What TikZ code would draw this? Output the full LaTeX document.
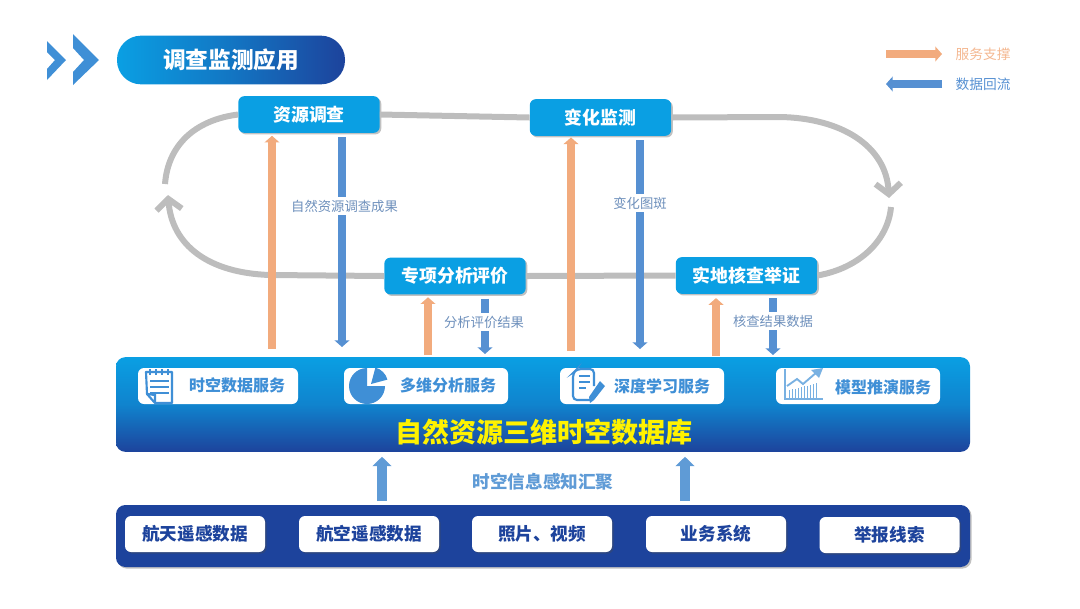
\documentclass[tikz,border=0pt]{standalone}
\usepackage{fontspec}
\setmainfont{Noto Sans CJK SC}
\usetikzlibrary{arrows.meta,shadows}

\definecolor{skyblue}{HTML}{0A9FE3}
\definecolor{deepblue}{HTML}{1D439C}
\definecolor{loopgray}{HTML}{BDBDBD}
\definecolor{suporange}{HTML}{F2AB7D}
\definecolor{backblue}{HTML}{5690D2}
\definecolor{iconblue}{HTML}{3F8FD6}
\definecolor{feedblue}{HTML}{5F9BD6}
\definecolor{labelblue}{HTML}{6E90BC}

\tikzset{
    softshadow/.style={drop shadow={shadow xshift=1.2pt,shadow yshift=-1.2pt,opacity=0.35,fill=black!70}},
    loopbox/.style={draw=none,fill=skyblue,rounded corners=4.5pt,minimum width=106pt,minimum height=27.5pt,
        text=white,font=\fontsize{13.4}{16}\selectfont\bfseries,softshadow},
    sourcebox/.style={fill=white,rounded corners=4.5pt,minimum width=105pt,minimum height=27pt,
        text=deepblue,font=\fontsize{13.2}{16}\selectfont\bfseries,softshadow},
    servicebox/.style={fill=white,rounded corners=4.5pt,minimum height=27pt,inner sep=0pt},
    servicetext/.style={text=iconblue,font=\fontsize{12}{14}\selectfont\bfseries,inner sep=0pt},
    flowlabel/.style={fill=white,text=labelblue,font=\fontsize{10}{12}\selectfont,inner xsep=0pt,inner ysep=2pt},
    looparrow/.style={line width=4.5pt,draw=loopgray},
    looptip/.style={looparrow,-{Straight Barb[length=8pt,width=19pt,line width=4.5pt]}},
    suparrow/.style={line width=6pt,draw=suporange,-{Triangle[length=5pt,width=11pt]}},
    backarrow/.style={line width=6pt,draw=backblue,-{Triangle[length=5pt,width=11pt]}},
    feedarrow/.style={line width=8pt,draw=feedblue,-{Triangle[length=7pt,width=14pt]}},
    iconline/.style={draw=iconblue,line width=1.2pt}
}

\begin{document}
\begin{tikzpicture}[x=0.75pt,y=-0.75pt]
    \useasboundingbox (0,0) rectangle (1080,608);

    % Heading
    \fill[iconblue] (47,41) -- (66,60) -- (47,80) -- (47,69) -- (55,60) -- (47,52) -- cycle;
    \fill[iconblue] (73,34) -- (99,60) -- (73,85) -- (73,72) -- (84,60) -- (73,48) -- cycle;
    \node[left color=skyblue,right color=deepblue,middle color=skyblue!55!deepblue,rounded corners=18pt,
        minimum width=171pt,minimum height=36.5pt,text=white,font=\fontsize{17}{20}\selectfont\bfseries] (heading) at (231,60) {调查监测应用};

    % Legend
    \coordinate (legsupl) at (886,54);
    \coordinate (legsupr) at (942,54);
    \coordinate (legbackl) at (886,84);
    \coordinate (legbackr) at (942,84);
    \draw[suparrow,line width=6.5pt] (legsupl) -- (legsupr);
    \draw[backarrow,line width=6.5pt] (legbackr) -- (legbackl);
    \node[text=suporange!85!white,font=\fontsize{10.3}{12}\selectfont] (legsup) at (983,54) {服务支撑};
    \node[text=backblue,font=\fontsize{10.3}{12}\selectfont] (legback) at (983,84) {数据回流};

    % Loop boxes
    \node[loopbox] (survey) at (309,114.5) {资源调查};
    \node[loopbox] (monitor) at (600.5,117.5) {变化监测};
    \node[loopbox] (assess) at (455,276) {专项分析评价};
    \node[loopbox] (verify) at (746.5,275.5) {实地核查举证};

    % Loop
    \coordinate (lefttop) at (165,184);
    \coordinate (leftend) at (168,195);
    \coordinate (righttip) at (889,198);
    \coordinate (rightbot) at (891,207);
    \draw[looparrow] (survey.east) -- (monitor.west);
    \draw[looparrow] (assess.east) -- (verify.west);
    \draw[looparrow] (survey.west) .. controls (195,120) and (168,145) .. (lefttop);
    \draw[looptip] (assess.west) -- (270,275) .. controls (208,273) and (172,245) .. (leftend);
    \draw[looptip] (monitor.east) -- (780,117) .. controls (840,118) and (886,145) .. (righttip);
    \draw[looparrow] (rightbot) .. controls (888,240) and (860,268) .. (verify.east);

    % Database
    \node[top color=skyblue,bottom color=deepblue,middle color=skyblue!70!deepblue,rounded corners=7pt,
        minimum width=640.5pt,minimum height=71pt] (database) at (543,404.5) {};
    \node[text=yellow,font=\fontsize{20.3}{24}\selectfont\bfseries,inner sep=0pt] (dbtitle) at (544,432) {自然资源三维时空数据库};

    % Services
    \node[servicebox,minimum width=120pt] (serv1) at (218,386) {};
    \node[servicebox,minimum width=123pt] (serv2) at (426,386) {};
    \node[servicebox,minimum width=123pt] (serv3) at (642,386) {};
    \node[servicebox,minimum width=123pt] (serv4) at (858,386) {};
    \node[servicetext] (servtext1) at (237,385.5) {时空数据服务};
    \node[servicetext] (servtext2) at (448,385.5) {多维分析服务};
    \node[servicetext] (servtext3) at (662,386) {深度学习服务};
    \node[servicetext] (servtext4) at (883,387) {模型推演服务};

    % Notepad icon
    \draw[iconline,line width=1.6pt,line join=round] (146,372) -- (172,372) -- (172,403) -- (155,403) -- (147,394) -- cycle;
    \draw[iconline,line width=1.6pt] (155,403) -- (155,395) -- (147,394);
    \draw[iconline,line width=1.6pt] (150,369) -- (150,375) (156,369) -- (156,375) (162,369) -- (162,375) (168,369) -- (168,375);
    \draw[iconline,line width=1.6pt] (150,381) -- (169,381) (150,387) -- (169,387) (150,393) -- (169,393);

    % Pie icon
    \fill[iconblue] (367,386) -- +(0:18) arc (0:270:18) -- cycle;
    \fill[iconblue] (371,384) -- +(345:17) arc (345:285:17) -- cycle;

    % Document icon
    \draw[iconline,line width=1.6pt,rounded corners=3pt] (594,386) -- (594,369) -- (577,369) -- (573,373) -- (573,400) -- (590,400);
    \draw[iconline] (579,376) -- (590,376) (579,382) -- (590,382) (579,388) -- (586,388);
    \fill[iconblue] (600,381) -- (605,386) -- (594,400) -- (590,403) -- (589,397) -- cycle;

    % Chart icon
    \draw[iconline,draw=iconblue!70,line width=1pt] (785,369) -- (785,399) -- (823,399);
    \foreach \px in {789,792,795,798,801,804,807,810,813,816}
        \draw[draw=iconblue!70,line width=0.7pt] (\px,398) -- (\px,{390-(\px-789)*0.25});
    \draw[iconline,draw=iconblue!70,line width=1.4pt] (787,386) -- (797,379) -- (803,384) -- (817,372);
    \fill[iconblue!70] (823,368) -- (811,370) -- (819,378) -- cycle;

    % Sources
    \node[fill=deepblue,rounded corners=7pt,minimum width=640.5pt,minimum height=46.5pt,softshadow] (sources) at (543,536) {};
    \node[sourcebox] (space) at (195,534) {航天遥感数据};
    \node[sourcebox] (aerial) at (369,534) {航空遥感数据};
    \node[sourcebox] (photo) at (542,534) {照片、视频};
    \node[sourcebox] (system) at (716,534) {业务系统};
    \node[sourcebox] (report) at (889.5,535) {举报线索};

    % Feed arrows
    \coordinate (feed1) at (382,501);
    \coordinate (feed2) at (685,501);
    \draw[feedarrow,shorten >=3.5pt] (feed1) -- (feed1 |- database.south);
    \draw[feedarrow,shorten >=3.5pt] (feed2) -- (feed2 |- database.south);
    \node[text=feedblue,font=\fontsize{13.2}{16}\selectfont\bfseries,inner sep=0pt] (feedlabel) at (543,482) {时空信息感知汇聚};

    % Support and return arrows
    \coordinate (sup1) at (272,349);
    \coordinate (sup2) at (428,355);
    \coordinate (sup3) at (571,351);
    \coordinate (sup4) at (716,356);
    \coordinate (ret1) at (342,347);
    \coordinate (ret2) at (485,354);
    \coordinate (ret3) at (640,349);
    \coordinate (ret4) at (773,355);
    \draw[suparrow,shorten >=2pt] (sup1) -- (sup1 |- survey.south);
    \draw[suparrow,shorten >=2pt] (sup2) -- (sup2 |- assess.south);
    \draw[suparrow,shorten >=1pt] (sup3) -- (sup3 |- monitor.south);
    \draw[suparrow,shorten >=3pt] (sup4) -- (sup4 |- verify.south);
    \draw[backarrow,shorten <=3pt] (ret1 |- survey.south) -- (ret1);
    \draw[backarrow,shorten <=3pt] (ret2 |- assess.south) -- (ret2);
    \draw[backarrow,shorten <=3pt] (ret3 |- monitor.south) -- (ret3);
    \draw[backarrow,shorten <=3pt] (ret4 |- verify.south) -- (ret4);

    % Labels
    \node[flowlabel] (lblsurvey) at (344.5,206) {自然资源调查成果};
    \node[flowlabel] (lblassess) at (484,322) {分析评价结果};
    \node[flowlabel] (lblchange) at (640,203) {变化图斑};
    \node[flowlabel] (lblverify) at (773,321) {核查结果数据};
\end{tikzpicture}
\end{document}
